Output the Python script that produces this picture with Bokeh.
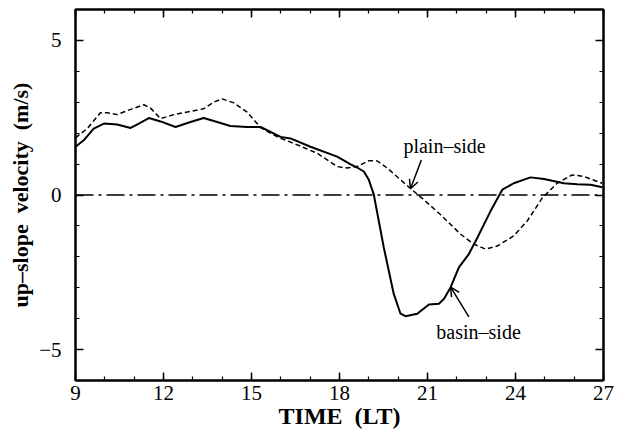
from bokeh.plotting import figure
from bokeh.models import (FixedTicker, LinearAxis, Range1d, Arrow, OpenHead,
                          Label)
from bokeh.embed import file_html
from bokeh.resources import INLINE

# Local time (hours) and up-slope velocity (m/s), basin-side station
basin_t = [9.0, 9.28, 9.62, 9.97, 10.42, 10.88, 11.16, 11.5, 11.9, 12.41,
           12.92, 13.37, 13.83, 14.28, 14.85, 15.31, 15.65, 15.99, 16.33,
           17.01, 17.92, 18.38, 18.6, 18.83, 19.0, 19.17, 19.51, 19.85,
           20.08, 20.25, 20.65, 21.05, 21.39, 21.56, 21.79, 22.07, 22.41,
           22.7, 23.15, 23.55, 23.94, 24.51, 24.97, 25.65, 26.1, 26.56, 26.96]
basin_v = [1.56, 1.77, 2.15, 2.31, 2.28, 2.17, 2.31, 2.49, 2.38, 2.2,
           2.36, 2.49, 2.36, 2.23, 2.2, 2.2, 2.04, 1.88, 1.83,
           1.56, 1.24, 0.99, 0.89, 0.76, 0.49, 0.01, -1.7, -3.2,
           -3.84, -3.92, -3.84, -3.54, -3.52, -3.36, -2.98, -2.34, -1.91,
           -1.38, -0.52, 0.17, 0.38, 0.57, 0.52, 0.38, 0.35, 0.33, 0.25]

# plain-side station
plain_t = [9.0, 9.4, 9.85, 10.08, 10.42, 10.88, 11.33, 11.56, 11.9, 12.35,
           13.37, 13.71, 14.0, 14.4, 14.85, 15.31, 15.88, 16.44, 17.24,
           17.92, 18.26, 18.6, 19.0, 19.29, 19.63, 20.31, 20.87, 21.44,
           22.13, 22.58, 22.98, 23.38, 23.94, 24.4, 24.91, 25.42, 25.93,
           26.33, 26.96]
plain_v = [1.85, 2.15, 2.66, 2.66, 2.6, 2.77, 2.92, 2.81, 2.47, 2.6,
           2.79, 3.0, 3.11, 2.98, 2.68, 2.18, 1.88, 1.67, 1.35,
           0.92, 0.87, 0.92, 1.11, 1.1, 0.87, 0.3, -0.15, -0.63,
           -1.27, -1.59, -1.75, -1.65, -1.32, -0.84, -0.1, 0.38, 0.65,
           0.6, 0.38]

x_ticks = [9, 12, 15, 18, 21, 24, 27]
y_ticks = [-5, 0, 5]

SERIF = "Liberation Serif"

p = figure(width=626, height=431, output_backend="svg", toolbar_location=None,
           x_range=Range1d(9, 27), y_range=Range1d(-6, 6),
           min_border_left=75, min_border_right=23, min_border_top=9,
           min_border_bottom=48)
p.grid.visible = False
p.outline_line_color = "black"
p.outline_line_width = 2
p.background_fill_color = "white"
p.border_fill_color = "white"

xt = FixedTicker(ticks=x_ticks, minor_ticks=list(range(9, 28)))
yt = FixedTicker(ticks=y_ticks, minor_ticks=list(range(-6, 7)))

def style_axis(ax):
    ax.axis_line_width = 2
    ax.axis_line_color = "black"
    ax.major_tick_in = 8
    ax.major_tick_out = 0
    ax.minor_tick_in = 4
    ax.minor_tick_out = 0
    ax.major_tick_line_width = 1.5
    ax.minor_tick_line_width = 1.2
    ax.major_tick_line_color = "black"
    ax.minor_tick_line_color = "black"
    ax.major_label_text_font = SERIF
    ax.major_label_text_font_size = "21px"
    ax.major_label_text_color = "black"
    ax.axis_label_text_font = SERIF
    ax.axis_label_text_font_style = "bold"
    ax.axis_label_text_color = "black"

xa = p.xaxis[0]
xa.ticker = xt
style_axis(xa)
xa.major_label_standoff = 5
xa.axis_label = "TIME\u00a0\u00a0(LT)"
xa.axis_label_text_font_size = "24px"
xa.axis_label_standoff = 0

ya = p.yaxis[0]
ya.ticker = yt
style_axis(ya)
ya.major_label_standoff = 14
ya.axis_label = "up\u2013slope\u00a0\u00a0velocity\u00a0\u00a0(m/s)"
ya.axis_label_text_font_size = "22px"
ya.axis_label_standoff = 3

# tick marks only along the top and right edges
top = LinearAxis(ticker=xt, major_label_overrides={t: "" for t in x_ticks})
style_axis(top)
top.major_label_standoff = 0
p.add_layout(top, "above")
right = LinearAxis(ticker=yt, major_label_overrides={t: "" for t in y_ticks})
style_axis(right)
right.major_label_standoff = 0
p.add_layout(right, "right")

# zero reference line
p.line([9, 27], [0, 0], line_color="black", line_width=1.5,
       line_dash="18 5 3 5")

# plain-side (dashed) and basin-side (solid) velocities
p.line(plain_t, plain_v, line_color="black", line_width=1.5, line_dash="5 3",
       line_join="round")
p.line(basin_t, basin_v, line_color="black", line_width=2, line_join="round")

p.add_layout(Label(x=21.58, y=1.57, text="plain\u2013side", text_font=SERIF,
                   text_font_size="20px", text_align="center",
                   text_baseline="middle", text_color="black"))
p.add_layout(Arrow(x_start=20.79, y_start=1.13, x_end=20.42, y_end=0.2,
                   line_width=1.5, end=OpenHead(size=9, line_width=1.5)))

p.add_layout(Label(x=22.74, y=-4.42, text="basin\u2013side", text_font=SERIF,
                   text_font_size="20px", text_align="center",
                   text_baseline="middle", text_color="black"))
p.add_layout(Arrow(x_start=22.41, y_start=-3.94, x_end=21.79, y_end=-2.98,
                   line_width=1.5, end=OpenHead(size=9, line_width=1.5)))

open("out.html", "w").write(file_html(p, INLINE))
